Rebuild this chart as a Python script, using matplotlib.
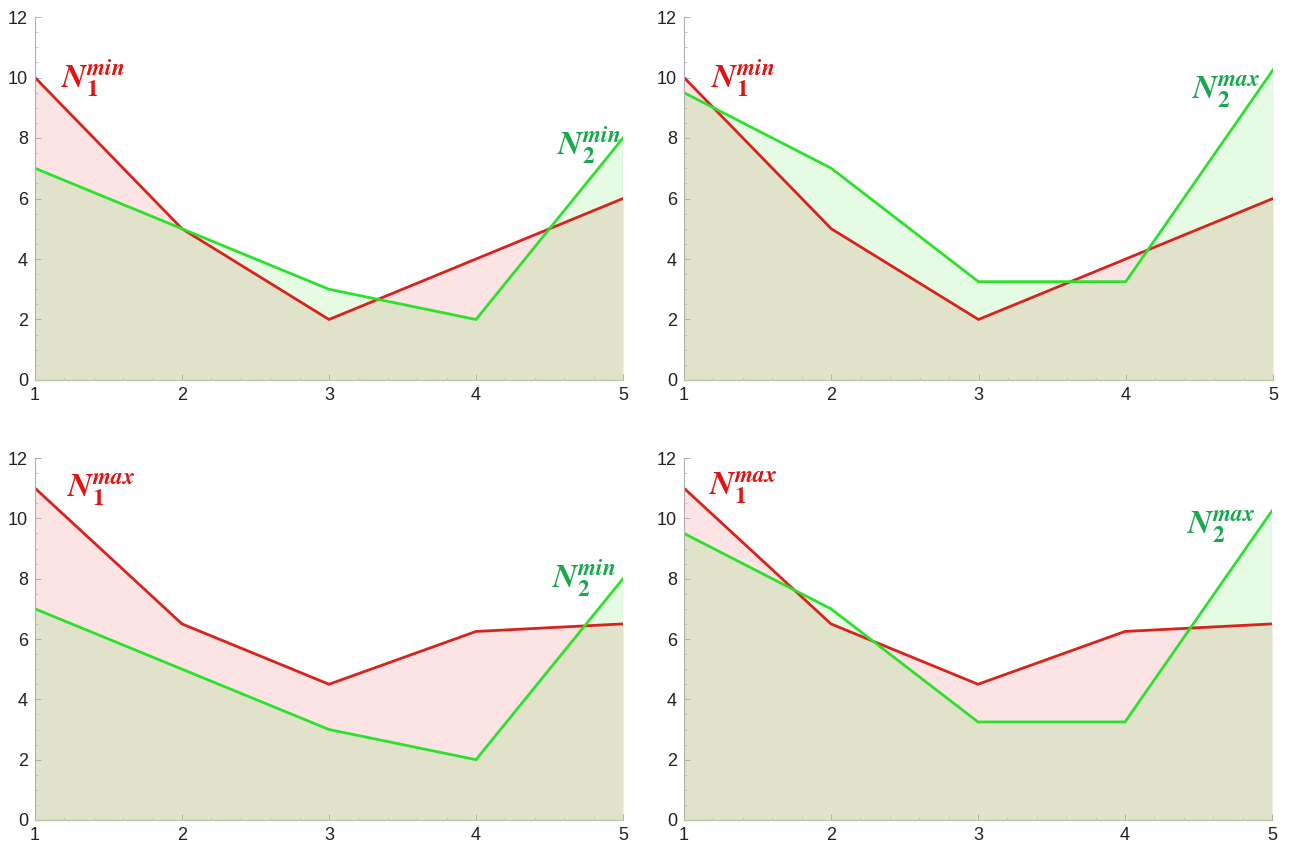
import matplotlib
matplotlib.use("Agg")
import matplotlib.pyplot as plt
import numpy as np
from matplotlib.ticker import MultipleLocator

plt.rcParams['font.family'] = ['Liberation Sans', 'DejaVu Sans']
plt.rcParams['mathtext.fontset'] = 'stix'

x = [1, 2, 3, 4, 5]
n1_min = [10, 5, 2, 4, 6]
n1_max = [11, 6.5, 4.5, 6.25, 6.5]
n2_min = [7, 5, 3, 2, 8]
n2_max = [9.5, 7, 3.25, 3.25, 10.25]

panels = [
    (n1_min, n2_min, r'$\mathbfit{N}_{\mathbf{1}}^{\mathbfit{min}}$', r'$\mathbfit{N}_{\mathbf{2}}^{\mathbfit{min}}$',
     (1.18, 9.98), (4.55, 7.77)),
    (n1_min, n2_max, r'$\mathbfit{N}_{\mathbf{1}}^{\mathbfit{min}}$', r'$\mathbfit{N}_{\mathbf{2}}^{\mathbfit{max}}$',
     (1.18, 9.98), (4.45, 9.52)),
    (n1_max, n2_min, r'$\mathbfit{N}_{\mathbf{1}}^{\mathbfit{max}}$', r'$\mathbfit{N}_{\mathbf{2}}^{\mathbfit{min}}$',
     (1.22, 10.94), (4.52, 8.02)),
    (n1_max, n2_max, r'$\mathbfit{N}_{\mathbf{1}}^{\mathbfit{max}}$', r'$\mathbfit{N}_{\mathbf{2}}^{\mathbfit{max}}$',
     (1.17, 11.0), (4.42, 9.71)),
]

positions = [
    [35/1289, 1-380/842, 588/1289, 363/842],
    [684/1289, 1-380/842, 589/1289, 363/842],
    [35/1289, 1-820/842, 588/1289, 362/842],
    [684/1289, 1-820/842, 588/1289, 362/842],
]

red = '#d8231c'
green = '#2ee02e'
red_txt = '#e01414'
green_txt = '#1aa84e'
pink = '#fde4e4'
lgreen = '#e6fbe3'
olive = '#e1e2ca'

fig = plt.figure(figsize=(12.89, 8.42), dpi=100)
for (r, g, lab1, lab2, p1, p2), pos in zip(panels, positions):
    ax = fig.add_axes(pos)
    xs = np.array(x, dtype=float)
    rr = np.array(r, dtype=float)
    gg = np.array(g, dtype=float)
    xf = np.linspace(1, 5, 2001)
    rf = np.interp(xf, xs, rr)
    gf = np.interp(xf, xs, gg)
    lo = np.minimum(rf, gf)
    ax.fill_between(xf, 0, lo, color=olive, lw=0)
    ax.fill_between(xf, gf, rf, where=rf >= gf, color=pink, lw=0, interpolate=True)
    ax.fill_between(xf, rf, gf, where=gf >= rf, color=lgreen, lw=0, interpolate=True)
    ax.plot([5, 5], [0, max(rr[-1], gg[-1])], color='#d6ecc8', lw=1)
    ax.plot(xs, rr, color=red, lw=2.0, solid_joinstyle='miter')
    ax.plot(xs, gg, color=green, lw=2.0, solid_joinstyle='miter')
    ax.text(p1[0], p1[1], lab1, color=red_txt, fontsize=24, ha='left', va='center')
    ax.text(p2[0], p2[1], lab2, color=green_txt, fontsize=24, ha='left', va='center')

    ax.set_xlim(1, 5)
    ax.set_ylim(0, 12)
    ax.xaxis.set_major_locator(MultipleLocator(1))
    ax.xaxis.set_minor_locator(MultipleLocator(0.2))
    ax.yaxis.set_major_locator(MultipleLocator(2))
    ax.yaxis.set_minor_locator(MultipleLocator(0.5))
    for s in ['top', 'right']:
        ax.spines[s].set_visible(False)
    ax.spines['left'].set_color('#b0b0b0')
    ax.spines['bottom'].set_color('#b4cfa4')
    ax.spines['left'].set_linewidth(0.8)
    ax.spines['bottom'].set_linewidth(1.0)
    ax.tick_params(which='major', direction='in', length=4, color='#b0b0b0', width=0.7,
                   labelsize=13, labelcolor='#222222')
    ax.tick_params(which='minor', direction='in', length=2.5, color='#c0c0c0', width=0.6)
    ax.tick_params(axis='x', pad=5)
    ax.tick_params(axis='y', pad=5)
    ax.patch.set_alpha(0)

fig.savefig('out.png', dpi=100)
